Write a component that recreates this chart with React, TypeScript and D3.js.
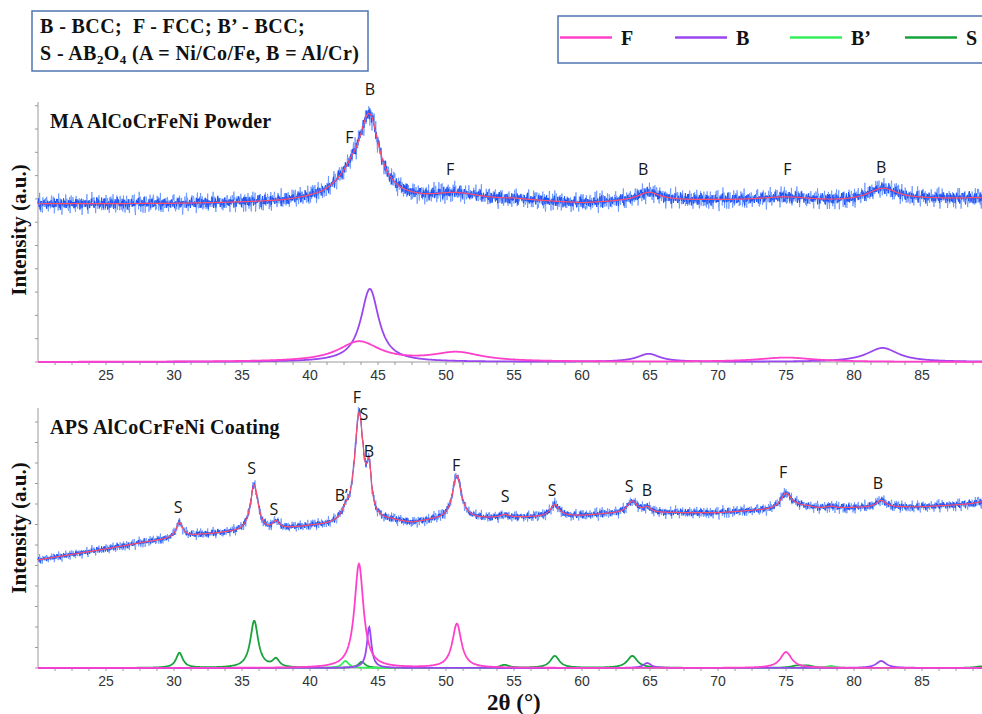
import React from 'react';
import * as d3 from 'd3';

// 2θ range and tick values shared by both patterns
const angleDomain: [number, number] = [20, 90];
const xTickValues = [25, 30, 35, 40, 45, 50, 55, 60, 65, 70, 75, 80, 85];
const xMinorStep = 1.25;

// Peak lists: [2θ centre, height (a.u.), half width at half maximum]
type Peak = [number, number, number];

const powderF: Peak[] = [[43.6, 20, 1.85], [50.8, 9, 2.2], [75.0, 4.3, 2.5]];
const powderB: Peak[] = [[44.4, 73, 0.8], [64.9, 8, 1.0], [82.1, 14, 1.4]];
const powderBackground: [number, number][] = [
  [20, 158], [30, 158], [38, 159], [41, 161], [42, 164], [43, 168], [43.8, 164],
  [44.4, 157], [45, 159], [46, 160], [48, 159], [51, 158], [55, 161], [60, 158],
  [65, 161], [70, 161], [75, 160], [82, 159], [85, 162], [90, 164],
];

const coatingF: Peak[] = [[43.6, 104, 0.4], [50.8, 44, 0.4], [75.0, 16, 0.5]];
const coatingB: Peak[] = [[44.35, 41, 0.2], [64.8, 5, 0.35], [82.0, 7, 0.45]];
const coatingBPrime: Peak[] = [[42.6, 7, 0.3], [78.3, 2, 0.4]];
const coatingS: Peak[] = [
  [30.4, 15, 0.3], [35.9, 47, 0.35], [37.5, 8, 0.3], [43.8, 6, 0.3], [54.3, 3, 0.4],
  [58.0, 12, 0.4], [63.7, 12, 0.45], [75.8, 2, 0.5], [76.6, 2, 0.5], [89.3, 1.5, 0.5],
];
const coatingBackground: [number, number][] = [
  [20, 108], [25, 119], [28, 126], [32, 133], [34, 135], [37, 136], [38.5, 139],
  [40, 141], [41.5, 142], [46, 146], [47.5, 144], [49, 147], [53, 149], [55, 150],
  [60, 152], [62, 154], [66.5, 155], [70, 155], [72.5, 157], [78, 159], [80, 160],
  [85, 161], [90, 165],
];

// Peak annotations: [letter, 2θ, height (a.u.)]
type Note = [string, number, number];
const powderNotes: Note[] = [
  ['B', 44.4, 273], ['F', 42.9, 225], ['F', 50.3, 193],
  ['B', 64.5, 193], ['F', 75.1, 193], ['B', 82.0, 195],
];
const coatingNotes: Note[] = [
  ['S', 30.3, 161], ['S', 35.7, 200], ['S', 37.35, 159], ['B\u2019', 42.3, 173],
  ['F', 43.45, 271], ['S', 43.97, 254], ['B', 44.34, 217], ['F', 50.74, 203],
  ['S', 54.35, 172], ['S', 57.8, 178], ['S', 63.46, 182], ['B', 64.78, 178],
  ['F', 74.78, 196], ['B', 81.76, 185],
];

// Counting-statistics scatter texture for the measured traces
const jitterA = [
  0.62, -0.81, 0.14, 0.93, -0.37, -0.95, 0.48, 0.21, -0.66, 0.77, -0.12, -0.54, 0.99,
  -0.28, 0.35, -0.88, 0.57, -0.03, 0.71, -0.72, 0.09, -0.46, 0.86, -0.91, 0.3, 0.52,
  -0.19, -0.63, 0.41,
];
const jitterB = [
  -0.44, 0.58, -0.9, 0.23, 0.67, -0.15, -0.76, 0.95, -0.33, 0.12, -0.58, 0.81, -0.97,
  0.39, 0.05, -0.69, 0.74, -0.24, 0.49, -0.85, 0.31, 0.88, -0.52, -0.08, 0.64, -0.79,
  0.18, 0.93, -0.41, -0.61, 0.27, 0.55, -0.99, 0.07, 0.83, -0.3, 0.44,
];

const colors = {
  F: '#ff40cc',
  B: '#9a46f0',
  BPrime: '#35ee5a',
  S: '#17a33c',
  measuredLight: '#5f8eff',
  measured: '#1a4ff5',
  fit: '#ff4d6a',
  axis: '#9a9a9a',
  frame: '#4f76b0',
};

const serif = '"Liberation Serif", "Times New Roman", serif';
const sans = '"Liberation Sans", Arial, sans-serif';
const labelFont = '"Open Sans", "Noto Sans", sans-serif';

const xScale = d3.scaleLinear().domain(angleDomain).range([38, 990]);
const grid = d3.range(angleDomain[0], angleDomain[1] + 1e-9, 0.04);

function profile(peaks: Peak[], x: number) {
  let s = 0;
  for (const [c, h, w] of peaks) {
    const t = (x - c) / w;
    s += h / (1 + t * t);
  }
  return s;
}

type Phase = { key: string; color: string; peaks: Peak[] };

type PanelProps = {
  bottom: number;
  title: string;
  phases: Phase[];
  background: [number, number][];
  notes: Note[];
  yTickStep: number;
  scatter: number;
  labelY: number;
};

function Panel({ bottom, title, phases, background, notes, yTickStep, scatter, labelY }: PanelProps) {
  const yScale = d3.scaleLinear().domain([0, 260]).range([bottom, bottom - 260]);
  const bg = d3
    .scaleLinear()
    .domain(background.map((d) => d[0]))
    .range(background.map((d) => d[1]))
    .clamp(true);
  const allPeaks = phases.flatMap((p) => p.peaks);
  const fit = grid.map((x) => [x, bg(x) + profile(allPeaks, x)] as [number, number]);
  const base = background[0][1];
  const measured = (amp: number, shift: number) =>
    fit.map(([x, v], i) => {
      const j =
        0.6 * jitterA[(i + shift) % jitterA.length] + 0.4 * jitterB[(i * 7 + shift) % jitterB.length];
      return [x, v + amp * Math.sqrt(v / base) * j] as [number, number];
    });
  const line = d3
    .line<[number, number]>()
    .x((d) => xScale(d[0]))
    .y((d) => yScale(d[1]));
  const yTicks = d3.range(0, 260, yTickStep);
  const xMinor = d3.range(angleDomain[0] + xMinorStep, angleDomain[1], xMinorStep);
  const top = bottom - 260;
  return (
    <g>
      {/* axes */}
      <line x1={38} x2={38} y1={top} y2={bottom} stroke={colors.axis} strokeWidth={1} />
      <line x1={38} x2={990} y1={bottom} y2={bottom} stroke={colors.axis} strokeWidth={1} />
      {yTicks.map((t) => (
        <line key={'y' + t} x1={35} x2={38} y1={yScale(t)} y2={yScale(t)} stroke={colors.axis} />
      ))}
      {xMinor.map((t) => (
        <line key={'x' + t} x1={xScale(t)} x2={xScale(t)} y1={bottom} y2={bottom + 3} stroke={colors.axis} />
      ))}
      {xTickValues.map((t) => (
        <text key={'l' + t} x={xScale(t)} y={bottom + 18} textAnchor="middle" fontFamily={sans} fontSize={14} fill="#333">
          {t}
        </text>
      ))}
      <text
        transform={`translate(26, ${labelY}) rotate(-90)`}
        textAnchor="middle"
        fontFamily={serif}
        fontWeight="bold"
        fontSize={21}
        fill="#111"
      >
        Intensity (a.u.)
      </text>
      <text x={50} y={top + 26} fontFamily={serif} fontWeight="bold" fontSize={20} letterSpacing={0.3} fill="#111">
        {title}
      </text>
      {/* phase contributions */}
      {phases.map((p) => (
        <path
          key={p.key}
          d={line(grid.map((x) => [x, profile(p.peaks, x)] as [number, number])) || ''}
          fill="none"
          stroke={p.color}
          strokeWidth={1.8}
        />
      ))}
      {/* measured pattern and fitted profile */}
      <path d={line(measured(scatter * 1.6, 0)) || ''} fill="none" stroke={colors.measuredLight} strokeWidth={0.9} opacity={0.85} />
      <path d={line(measured(scatter * 0.9, 11)) || ''} fill="none" stroke={colors.measured} strokeWidth={1} opacity={0.95} />
      <path d={line(fit) || ''} fill="none" stroke={colors.fit} strokeWidth={1.2} />
      {notes.map(([t, x, v], i) => (
        <text
          key={'n' + i}
          x={xScale(x)}
          y={yScale(v)}
          dy="0.36em"
          textAnchor="middle"
          fontFamily={labelFont}
          fontSize={16}
          fill="#151515"
        >
          {t}
        </text>
      ))}
    </g>
  );
}

const legendItems = [
  { label: 'F', color: colors.F },
  { label: 'B', color: colors.B },
  { label: 'B\u2019', color: colors.BPrime },
  { label: 'S', color: colors.S },
];

export default function App() {
  return (
    <svg
      width={982}
      height={714}
      viewBox="0 0 982 714"
      style={{ position: 'absolute', left: 0, top: 0, background: '#fff', display: 'block' }}
    >
      <rect width={982} height={714} fill="#fff" />
      {/* phase key */}
      <rect x={32} y={11} width={336} height={60} fill="#fff" stroke={colors.frame} strokeWidth={1.5} />
      <text x={40} y={33} fontFamily={serif} fontWeight="bold" fontSize={20} letterSpacing={0.4} fill="#111" style={{ whiteSpace: 'pre' }}>
        {'B - BCC;  F - FCC; B\u2019 - BCC;'}
      </text>
      <text x={40} y={60} fontFamily={serif} fontWeight="bold" fontSize={20} letterSpacing={0.4} fill="#111">
        S - AB
        <tspan fontSize={13} dy={4}>2</tspan>
        <tspan dy={-4}>O</tspan>
        <tspan fontSize={13} dy={4}>4</tspan>
        <tspan dy={-4}> (A = Ni/Co/Fe, B = Al/Cr)</tspan>
      </text>
      {/* line legend */}
      <rect x={558} y={16} width={450} height={47} fill="#fff" stroke={colors.frame} strokeWidth={1.5} />
      {legendItems.map((d, i) => {
        const x0 = 560 + i * 115;
        return (
          <g key={d.label}>
            <line x1={x0} x2={x0 + 52} y1={37.5} y2={37.5} stroke={d.color} strokeWidth={2.5} />
            <text x={x0 + 61} y={45} fontFamily={serif} fontWeight="bold" fontSize={20} fill="#111">
              {d.label}
            </text>
          </g>
        );
      })}
      <Panel
        bottom={362}
        title="MA AlCoCrFeNi Powder"
        phases={[
          { key: 'B', color: colors.B, peaks: powderB },
          { key: 'F', color: colors.F, peaks: powderF },
        ]}
        background={powderBackground}
        notes={powderNotes}
        yTickStep={23.3}
        scatter={7.5}
        labelY={230}
      />
      <Panel
        bottom={668}
        title="APS AlCoCrFeNi Coating"
        phases={[
          { key: 'S', color: colors.S, peaks: coatingS },
          { key: 'BP', color: colors.BPrime, peaks: coatingBPrime },
          { key: 'B', color: colors.B, peaks: coatingB },
          { key: 'F', color: colors.F, peaks: coatingF },
        ]}
        background={coatingBackground}
        notes={coatingNotes}
        yTickStep={20.5}
        scatter={3.8}
        labelY={528}
      />
      <text x={487} y={710} fontFamily={serif} fontWeight="bold" fontSize={23} fill="#111">
        2θ (°)
      </text>
    </svg>
  );
}
